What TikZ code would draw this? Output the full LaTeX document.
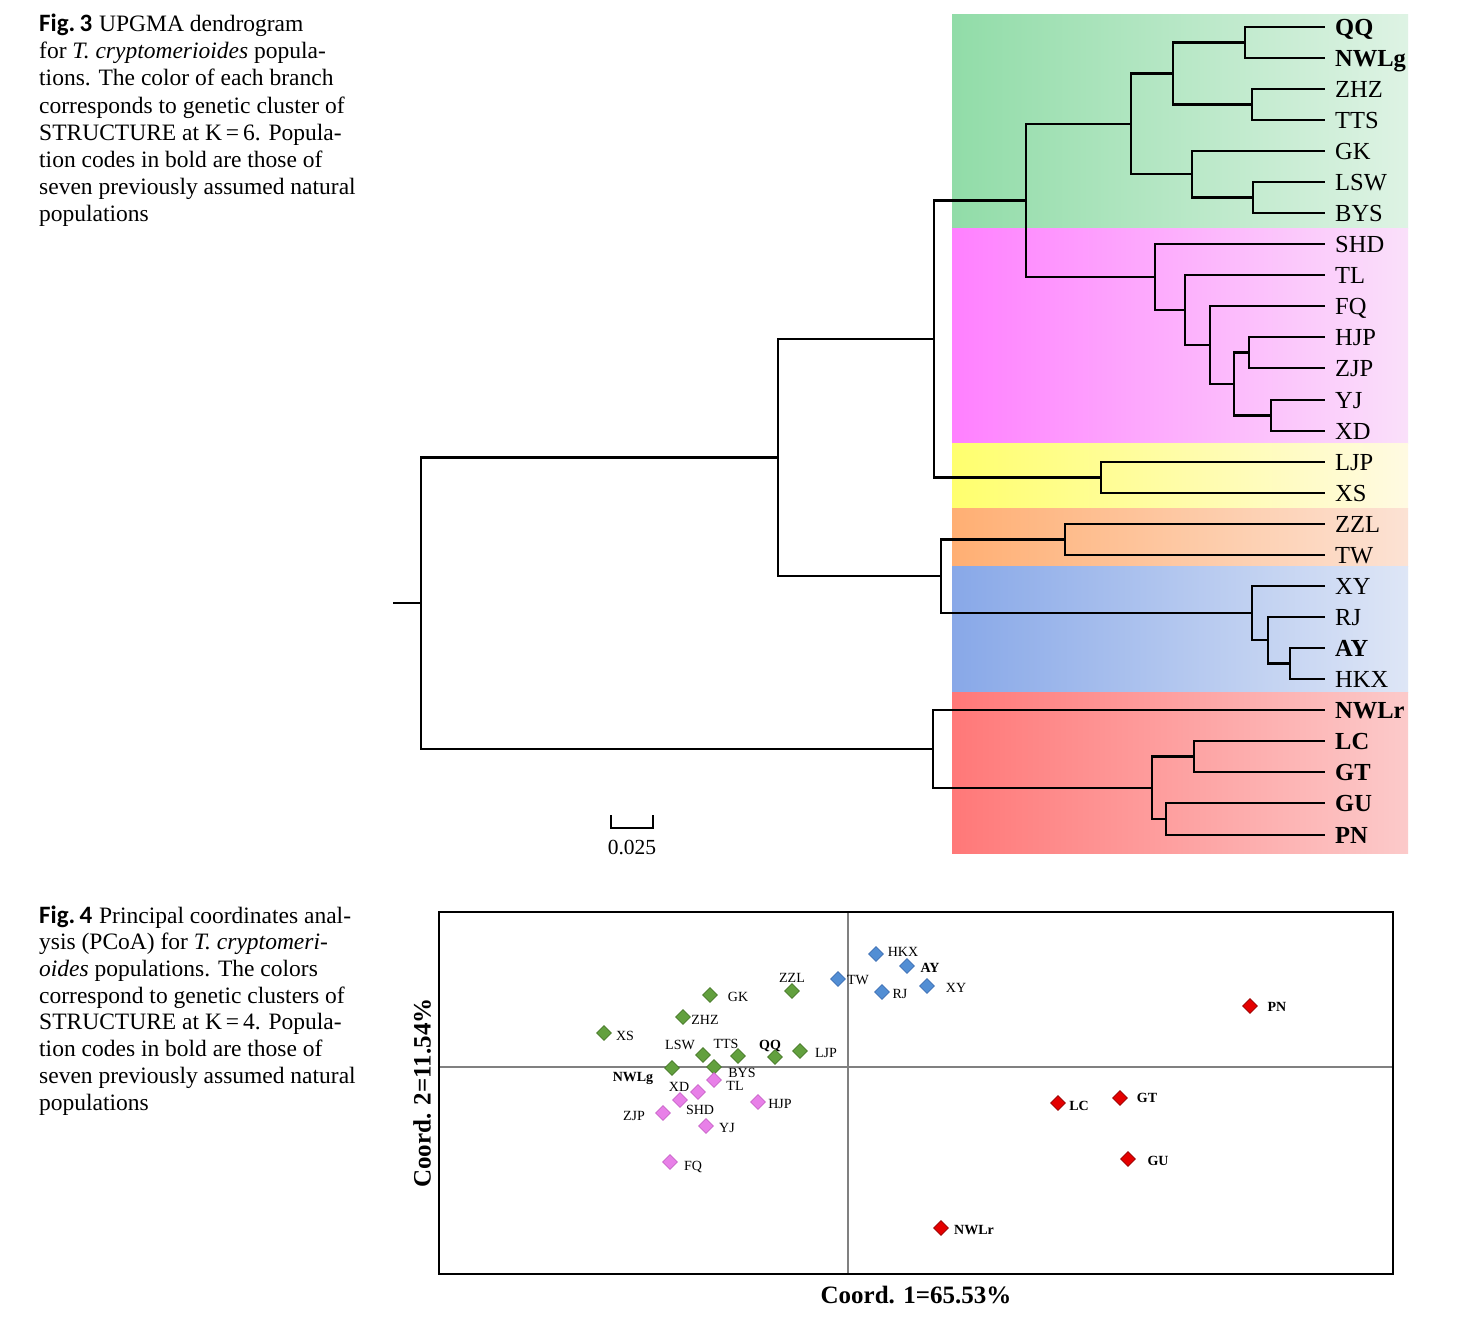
\documentclass[tikz,border=0pt]{standalone}
\usepackage{fontspec}
\setmainfont{Liberation Serif}
\newfontfamily\figfont{Carlito}
\usetikzlibrary{shapes.geometric}
\definecolor{gL}{RGB}{145,220,168}\definecolor{gR}{RGB}{222,243,228}
\definecolor{mL}{RGB}{255,128,255}\definecolor{mR}{RGB}{250,224,250}
\definecolor{yL}{RGB}{255,255,110}\definecolor{yR}{RGB}{255,250,226}
\definecolor{oL}{RGB}{255,175,115}\definecolor{oR}{RGB}{252,226,212}
\definecolor{bL}{RGB}{136,168,232}\definecolor{bR}{RGB}{222,230,246}
\definecolor{rL}{RGB}{255,120,120}\definecolor{rR}{RGB}{252,202,202}
\definecolor{gpF}{RGB}{98,160,62}\definecolor{gpD}{RGB}{70,120,40}
\definecolor{ppF}{RGB}{232,128,232}\definecolor{ppD}{RGB}{200,100,200}
\definecolor{bpF}{RGB}{82,142,212}\definecolor{bpD}{RGB}{60,110,180}
\definecolor{rpF}{RGB}{228,0,0}\definecolor{rpD}{RGB}{150,0,0}
\begin{document}
\begin{tikzpicture}[x=1pt,y=-1pt,
  branch/.style={line width=2.1pt},
  leaf/.style={anchor=west,inner sep=0pt,text height=16pt,text depth=0pt,font=\fontsize{24.5}{28}\selectfont},
  leafb/.style={leaf,font=\fontsize{24.5}{28}\selectfont\bfseries},
  capline/.style={anchor=base west,inner sep=0pt,font=\fontsize{23.5}{27}\selectfont},
  pnt/.style={diamond,minimum size=15pt,inner sep=0pt,line width=0.6pt},
  gpt/.style={pnt,fill=gpF,draw=gpD},
  ppt/.style={pnt,fill=ppF,draw=ppD},
  bpt/.style={pnt,fill=bpF,draw=bpD},
  rpt/.style={pnt,fill=rpF,draw=rpD},
  plab/.style={inner sep=0pt,text height=10pt,text depth=0pt,font=\fontsize{14}{16}\selectfont},
  plabb/.style={plab,font=\fontsize{14}{16}\selectfont\bfseries}]
\useasboundingbox[fill=white] (0,0) rectangle (1460,1328);

% ---------- Fig. 3 caption ----------
\node[capline] (c31) at (39,31.7) {{\figfont\fontsize{25}{27}\selectfont\bfseries Fig.\,3}\hspace{7pt}UPGMA dendrogram};
\node[capline] (c32) at (39,58.8) {for \textit{T. cryptomerioides} popula-};
\node[capline] (c33) at (39,85.9) {tions. The color of each branch};
\node[capline] (c34) at (39,113) {corresponds to genetic cluster of};
\node[capline] (c35) at (39,140) {STRUCTURE at K\,=\,6. Popula-};
\node[capline] (c36) at (39,167) {tion codes in bold are those of};
\node[capline] (c37) at (39,194) {seven previously assumed natural};
\node[capline] (c38) at (39,221) {populations};

% ---------- colour bands ----------
\shade[left color=gL,right color=gR] (952,14) rectangle (1408,228);
\shade[left color=mL,right color=mR] (952,228) rectangle (1408,443);
\shade[left color=yL,right color=yR] (952,443) rectangle (1408,508);
\shade[left color=oL,right color=oR] (952,508) rectangle (1408,566);
\shade[left color=bL,right color=bR] (952,566) rectangle (1408,692);
\shade[left color=rL,right color=rR] (952,692) rectangle (1408,853);

% ---------- leaves ----------
\foreach \n/\y in {ZHZ/89,TTS/120,GK/151,LSW/182,BYS/213,SHD/244,TL/275,FQ/306,HJP/337,ZJP/368,YJ/400,XD/431,LJP/462,XS/493,ZZL/524,TW/555,XY/586,RJ/617,HKX/679}{
  \coordinate (t\n) at (1325,\y);
  \node[leaf] (l\n) at (1335,\y) {\n};
}
\foreach \n/\y in {QQ/27,NWLg/58,AY/648,NWLr/710,LC/741,GT/772,GU/803,PN/835}{
  \coordinate (t\n) at (1325,\y);
  \node[leafb] (l\n) at (1335,\y) {\n};
}

% ---------- internal nodes ----------
\coordinate (na) at (1245,42.5);
\coordinate (nb) at (1252,104.5);
\coordinate (nc) at (1173,73.5);
\coordinate (nd) at (1253,197.5);
\coordinate (ne) at (1192,174);
\coordinate (nf) at (1131,124);
\coordinate (ng) at (1271,415.5);
\coordinate (nh) at (1249,352.5);
\coordinate (ni) at (1234,384);
\coordinate (nj) at (1210,345);
\coordinate (nk) at (1185,310);
\coordinate (nm) at (1155,277);
\coordinate (nn) at (1026,200.5);
\coordinate (no) at (1101,477.5);
\coordinate (np) at (934,339);
\coordinate (nq) at (1065,539.5);
\coordinate (nr) at (1290,663.5);
\coordinate (ns) at (1268,640);
\coordinate (nt) at (1252,613);
\coordinate (nu) at (941,576);
\coordinate (nv) at (778,457.5);
\coordinate (nw) at (1194,756.5);
\coordinate (nx) at (1166,819);
\coordinate (ny) at (1152,788);
\coordinate (nz) at (933,749);
\coordinate (root) at (421,603);
\coordinate (stub) at (393,603);

\foreach \p/\c in {na/tQQ,na/tNWLg,nb/tZHZ,nb/tTTS,nc/na,nc/nb,nd/tLSW,nd/tBYS,ne/tGK,ne/nd,nf/nc,nf/ne,
  ng/tYJ,ng/tXD,nh/tHJP,nh/tZJP,ni/nh,ni/ng,nj/tFQ,nj/ni,nk/tTL,nk/nj,nm/tSHD,nm/nk,nn/nf,nn/nm,
  no/tLJP,no/tXS,np/nn,np/no,nq/tZZL,nq/tTW,nr/tAY,nr/tHKX,ns/tRJ,ns/nr,nt/tXY,nt/ns,nu/nq,nu/nt,
  nv/np,nv/nu,nw/tLC,nw/tGT,nx/tGU,nx/tPN,ny/nw,ny/nx,nz/tNWLr,nz/ny,root/nv,root/nz}{
  \draw[branch] (\p) |- (\c);
}
\draw[branch] (stub) -- (root);

% scale bar
\coordinate (sb1) at (611,815);
\coordinate (sb2) at (653,815);
\draw[line width=1.8pt] (sb1) -- ++(0,13) -| (sb2);
\node[inner sep=0pt,font=\fontsize{21.5}{24}\selectfont] (sbl) at (632,847) {0.025};

% ---------- Fig. 4 caption ----------
\node[capline] (c41) at (39,923) {{\figfont\fontsize{25}{27}\selectfont\bfseries Fig.\,4}\hspace{7pt}Principal coordinates anal-};
\node[capline] (c42) at (39,949.7) {ysis (PCoA) for \textit{T. cryptomeri-}};
\node[capline] (c43) at (39,976.4) {\textit{oides} populations. The colors};
\node[capline] (c44) at (39,1003.1) {correspond to genetic clusters of};
\node[capline] (c45) at (39,1029.8) {STRUCTURE at K\,=\,4. Popula-};
\node[capline] (c46) at (39,1056.5) {tion codes in bold are those of};
\node[capline] (c47) at (39,1083.2) {seven previously assumed natural};
\node[capline] (c48) at (39,1110) {populations};

% ---------- PCoA ----------
\draw[gray,line width=1.3pt] (848,912) -- (848,1274);
\draw[gray,line width=1.3pt] (439,1067) -- (1393,1067);
\draw[line width=2.2pt] (439,912) rectangle (1393,1274);

% green
\foreach \n/\x/\y/\lx/\ly in {GK/710/995/738/996,ZZL/792/991/792/977,ZHZ/683/1017/705/1019,XS/604/1033/625/1035,
  LSW/703/1055/680/1044,TTS/738/1056/726/1043,LJP/800/1051/826/1052,BYS/714/1067/742/1072}{
  \node[gpt] (p\n) at (\x,\y) {};
  \node[plab] (q\n) at (\lx,\ly) {\n};
}
\foreach \n/\x/\y/\lx/\ly in {QQ/775/1057/770/1044,NWLg/672/1068/633/1076}{
  \node[gpt] (p\n) at (\x,\y) {};
  \node[plabb] (q\n) at (\lx,\ly) {\n};
}
% pink
\foreach \n/\x/\y/\lx/\ly in {TL/714/1080/735/1085,XD/698/1092/679/1086,SHD/680/1100/700/1109,ZJP/663/1113/634/1115,
  YJ/706/1126/727/1127,HJP/758/1102/780/1103,FQ/670/1162/693/1165}{
  \node[ppt] (p\n) at (\x,\y) {};
  \node[plab] (q\n) at (\lx,\ly) {\n};
}
% blue
\foreach \n/\x/\y/\lx/\ly in {HKX/876/954/903/951,TW/838/979/858/979,RJ/882/992/900/993,XY/927/986/956/987}{
  \node[bpt] (p\n) at (\x,\y) {};
  \node[plab] (q\n) at (\lx,\ly) {\n};
}
\node[bpt] (pAY) at (907,966) {};
\node[plabb] (qAY) at (930,967) {AY};
% red
\foreach \n/\x/\y/\lx/\ly in {PN/1250/1006/1277/1006,LC/1058/1103/1079/1105,GT/1120/1098/1147/1097,
  GU/1128/1159/1158/1160,NWLr/941/1228/974/1229}{
  \node[rpt] (p\n) at (\x,\y) {};
  \node[plabb] (q\n) at (\lx,\ly) {\n};
}

\node[inner sep=0pt,font=\fontsize{25}{28}\selectfont\bfseries] (xlab) at (916,1295) {Coord. 1=65.53\%};
\node[inner sep=0pt,rotate=90,font=\fontsize{25}{28}\selectfont\bfseries] (ylab) at (422,1093) {Coord. 2=11.54\%};
\end{tikzpicture}
\end{document}
